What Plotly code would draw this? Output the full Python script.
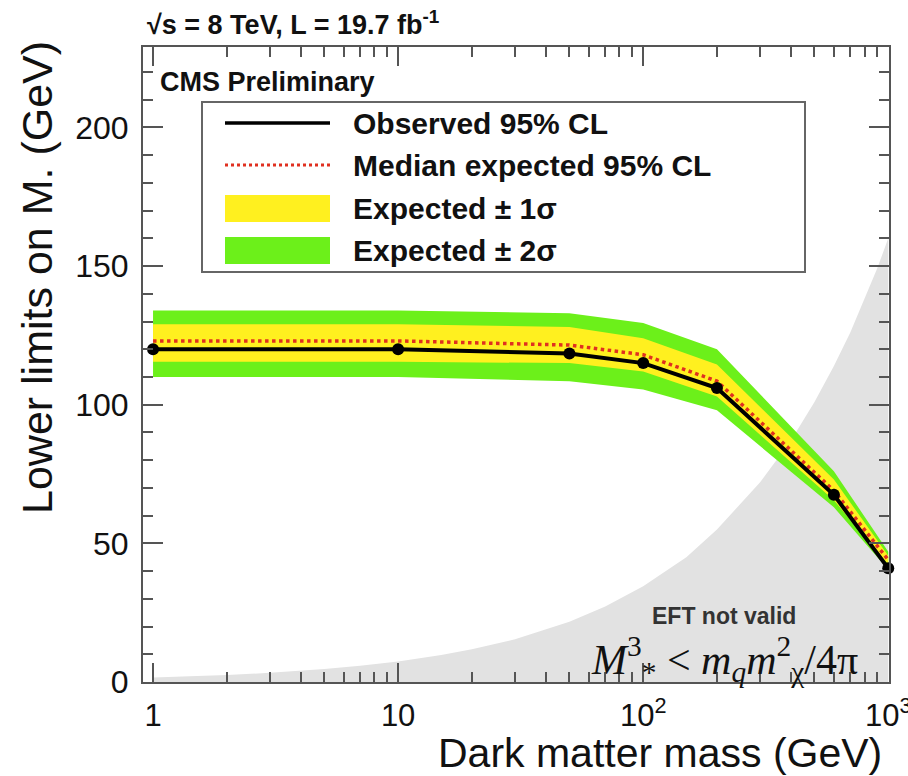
import plotly.graph_objects as go
import math

# ---------------- data ----------------
mass = [1, 10, 50, 100, 200, 600, 1000]
observed = [120, 120, 118.5, 115, 106, 67.5, 41]
expected = [123, 123, 121.5, 118, 108.5, 69, 44]
exp_1s_up = [129, 129, 128, 124, 114.5, 73, 45.5]
exp_1s_dn = [115.5, 115.5, 115, 112, 103, 65.5, 42.5]
exp_2s_up = [134, 134, 133, 129.5, 120, 76, 47]
exp_2s_dn = [110, 110, 108.5, 105.5, 98, 63, 40.5]

eft_mass = [1, 1.5, 2, 3, 5, 7, 10, 15, 20, 30, 50, 70, 100, 150, 200, 300,
            400, 500, 600, 700, 800, 900, 1000]
eft_limit = [1.6, 2.1, 2.5, 3.3, 4.7, 5.9, 7.4, 9.7, 11.8, 15.4, 21.7, 27.2, 34.5,
             45, 55, 72, 87, 101, 114, 126, 138, 149, 160]

x_tickvals = [1, 10, 100, 1000]
x_ticktext = ["1", "10", "10<sup>2</sup>", "10<sup>3</sup>"]
y_tickvals = [0, 50, 100, 150, 200]

legend_labels = ["Observed 95% CL", "Median expected 95% CL",
                 "Expected \u00b1 1\u03c3", "Expected \u00b1 2\u03c3"]

# ---------------- style ----------------
W, H = 908, 776
L, R, T, B = 143, 889, 47, 682
GREEN = "#6CF01A"
YELLOW = "#FFF01F"
RED = "#E03020"
GRAY = "#E2E2E2"
FRAME = "#555555"
FONT = "Liberation Sans, Arial, sans-serif"


def px(xp):
    return (xp - L) / (R - L)


def py(yp):
    return (B - yp) / (B - T)


fig = go.Figure()

# EFT not valid region
fig.add_trace(go.Scatter(x=eft_mass, y=eft_limit, mode="lines", fill="tozeroy",
                         fillcolor=GRAY, line=dict(color=GRAY, width=0),
                         showlegend=False, hoverinfo="skip"))

# 2 sigma band
fig.add_trace(go.Scatter(x=mass + mass[::-1], y=exp_2s_up + exp_2s_dn[::-1],
                         fill="toself", fillcolor=GREEN, mode="lines",
                         line=dict(width=0, color=GREEN), name=legend_labels[3],
                         showlegend=False))
# 1 sigma band
fig.add_trace(go.Scatter(x=mass + mass[::-1], y=exp_1s_up + exp_1s_dn[::-1],
                         fill="toself", fillcolor=YELLOW, mode="lines",
                         line=dict(width=0, color=YELLOW), name=legend_labels[2],
                         showlegend=False))
# median expected
fig.add_trace(go.Scatter(x=mass, y=expected, mode="lines",
                         line=dict(color=RED, width=3.5, dash="dot"),
                         name=legend_labels[1], showlegend=False))
# observed
fig.add_trace(go.Scatter(x=mass, y=observed, mode="lines+markers",
                         line=dict(color="black", width=4),
                         marker=dict(color="black", size=12),
                         name=legend_labels[0], showlegend=False,
                         cliponaxis=False))

shapes = []
annotations = []

# legend box
shapes.append(dict(type="rect", xref="paper", yref="paper",
                   x0=px(202), x1=px(805), y0=py(272), y1=py(102),
                   line=dict(color="#666666", width=2), fillcolor="white", layer="above"))
row_y = [123, 165, 208, 250]
shapes.append(dict(type="line", xref="paper", yref="paper", x0=px(225), x1=px(330),
                   y0=py(row_y[0]), y1=py(row_y[0]), line=dict(color="black", width=3.5),
                   layer="above"))
shapes.append(dict(type="line", xref="paper", yref="paper", x0=px(225), x1=px(330),
                   y0=py(row_y[1]), y1=py(row_y[1]), line=dict(color=RED, width=3, dash="dot"),
                   layer="above"))
shapes.append(dict(type="rect", xref="paper", yref="paper", x0=px(225), x1=px(330),
                   y0=py(row_y[2] + 14), y1=py(row_y[2] - 13), fillcolor=YELLOW,
                   line=dict(width=0), layer="above"))
shapes.append(dict(type="rect", xref="paper", yref="paper", x0=px(225), x1=px(330),
                   y0=py(row_y[3] + 14), y1=py(row_y[3] - 13), fillcolor=GREEN,
                   line=dict(width=0), layer="above"))
for lab, yy in zip(legend_labels, row_y):
    annotations.append(dict(text="<b>%s</b>" % lab, xref="paper", yref="paper",
                            x=px(351), y=py(yy), xanchor="left", yanchor="middle",
                            showarrow=False, font=dict(family=FONT, size=30, color="#111")))

# header texts
annotations.append(dict(text="<b>\u221as = 8 TeV, L = 19.7 fb<sup>-1</sup></b>",
                        xref="paper", yref="paper", x=px(145), y=py(23),
                        xanchor="left", yanchor="middle", showarrow=False,
                        font=dict(family=FONT, size=27, color="#111")))
annotations.append(dict(text="<b>CMS Preliminary</b>", xref="paper", yref="paper",
                        x=px(158), y=py(82), xanchor="left", yanchor="middle",
                        showarrow=False, font=dict(family=FONT, size=27, color="#111")))
annotations.append(dict(text="<b>EFT not valid</b>", xref="paper", yref="paper",
                        x=px(724), y=py(616), xanchor="center", yanchor="middle",
                        showarrow=False, font=dict(family=FONT, size=23, color="#333")))
annotations.append(dict(text="<i>M</i><sup>3</sup><sub>*</sub> &lt; <i>m</i><sub><i>q</i></sub>"
                             "<i>m</i><sup>2</sup><sub>\u03c7</sub>/4\u03c0",
                        xref="paper", yref="paper", x=px(724), y=py(659),
                        xanchor="center", yanchor="middle", showarrow=False,
                        font=dict(family="Liberation Serif, DejaVu Serif, serif", size=42,
                                  color="#111")))
# axis titles
annotations.append(dict(text="Dark matter mass (GeV)", xref="paper", yref="paper",
                        x=px(884), y=py(753), xanchor="right", yanchor="middle",
                        showarrow=False, font=dict(family=FONT, size=41, color="#111")))
annotations.append(dict(text="Lower limits on M. (GeV)", xref="paper", yref="paper",
                        x=px(37), y=py(278), xanchor="center", yanchor="middle",
                        textangle=-90, showarrow=False,
                        font=dict(family=FONT, size=43, color="#111")))

x_minor = [m * 10 ** d for d in range(0, 3) for m in range(2, 10)]

fig.update_layout(
    width=W, height=H,
    margin=dict(l=L, r=W - R, t=T, b=H - B, pad=0, autoexpand=False),
    paper_bgcolor="white", plot_bgcolor="white",
    shapes=shapes, annotations=annotations,
    showlegend=False,
    xaxis=dict(type="log", range=[math.log10(0.91), 3.003], automargin=False,
               tickmode="array", tickvals=x_tickvals, ticktext=x_ticktext,
               ticks="inside", ticklen=19, tickwidth=2, tickcolor=FRAME,
               showline=True, linecolor=FRAME, linewidth=2, mirror="allticks",
               showgrid=False, zeroline=False, ticklabeloverflow="allow",
               tickfont=dict(family=FONT, size=31, color="#111"),
               ticklabelstandoff=5,
               minor=dict(tickvals=x_minor, ticks="inside", ticklen=10,
                          tickwidth=1.5, tickcolor=FRAME, showgrid=False)),
    yaxis=dict(range=[0, 229], tickmode="array", tickvals=y_tickvals, automargin=False,
               ticks="inside", ticklen=20, tickwidth=2, tickcolor=FRAME,
               showline=True, linecolor=FRAME, linewidth=2, mirror="allticks",
               showgrid=False, zeroline=False,
               tickfont=dict(family=FONT, size=32, color="#111"),
               ticklabelstandoff=6,
               minor=dict(dtick=10, ticks="inside", ticklen=10, tickwidth=1.5,
                          tickcolor=FRAME, showgrid=False)),
)

fig.write_html("out.html", config={"displayModeBar": False},
               post_script="document.body.style.margin='0';document.body.style.overflow='hidden';")
